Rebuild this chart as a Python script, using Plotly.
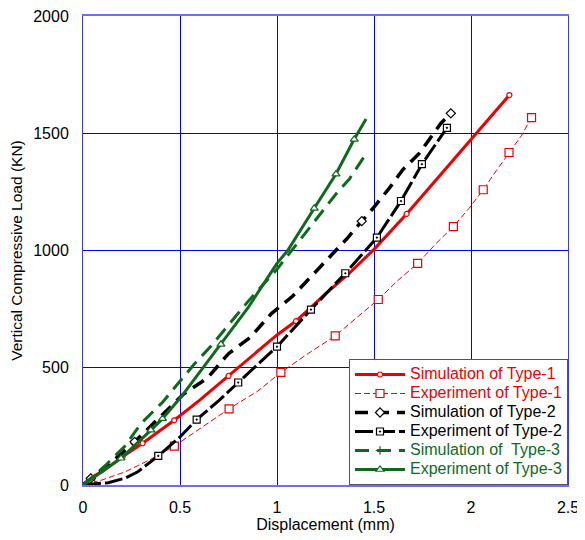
import plotly.graph_objects as go

# ---------------- data ----------------
sim1_x = [0, 0.038, 0.1, 0.204, 0.307, 0.47, 0.6, 0.75, 1.0, 1.098, 1.25, 1.373, 1.5, 1.668, 2.198]
sim1_y = [0, 30, 58, 121, 178, 276, 361, 465, 640, 699, 815, 903, 1005, 1156, 1663]
sim1_mx = [0, 0.038, 0.204, 0.307, 0.47, 0.75, 1.098, 1.668, 2.198]
sim1_my = [0, 30, 121, 178, 276, 465, 699, 1156, 1663]

exp1_x = [0, 0.1, 0.22, 0.35, 0.471, 0.6, 0.753, 0.9, 1.02, 1.15, 1.3, 1.42, 1.522, 1.62, 1.725,
          1.82, 1.909, 1.99, 2.063, 2.13, 2.196, 2.26, 2.312]
exp1_y = [0, 22, 57, 110, 166, 240, 325, 400, 480, 555, 636, 720, 791, 870, 945,
          1030, 1102, 1180, 1259, 1340, 1418, 1490, 1567]
exp1_mx = [0.04, 0.471, 0.753, 1.02, 1.3, 1.522, 1.725, 1.909, 2.063, 2.196, 2.312]
exp1_my = [12, 166, 325, 480, 636, 791, 945, 1102, 1259, 1418, 1567]

sim2_x = [0, 0.1, 0.17, 0.266, 0.375, 0.52, 0.64, 0.75, 0.86, 0.97, 1.08, 1.17, 1.27, 1.36,
          1.437, 1.493, 1.579, 1.648, 1.734, 1.845, 1.896]
sim2_y = [0, 65, 114, 184, 270, 389, 455, 560, 628, 730, 805, 885, 975, 1050,
          1125, 1178, 1266, 1344, 1415, 1543, 1585]
sim2_mx = [0.04, 0.266, 1.437, 1.896]
sim2_my = [28, 184, 1125, 1585]

exp2_x = [0, 0.05, 0.13, 0.22, 0.28, 0.388, 0.5, 0.586, 0.7, 0.8, 0.9, 1.0, 1.175, 1.352,
          1.515, 1.639, 1.747, 1.876]
exp2_y = [0, 3, 10, 30, 55, 124, 205, 279, 360, 437, 515, 590, 748, 903,
          1055, 1211, 1368, 1523]
exp2_mx = [0.388, 0.586, 0.8, 1.0, 1.175, 1.352, 1.515, 1.639, 1.747, 1.876]
exp2_my = [124, 279, 437, 590, 748, 903, 1055, 1211, 1368, 1523]

sim3_x = [0, 0.11, 0.213, 0.299, 0.41, 0.505, 0.574, 0.66, 0.85, 1.0, 1.193, 1.235, 1.304, 1.373, 1.45]
sim3_y = [0, 79, 163, 262, 353, 445, 516, 593, 782, 920, 1122, 1164, 1241, 1305, 1401]

exp3_x = [0, 0.05, 0.196, 0.35, 0.41, 0.505, 0.6, 0.711, 0.85, 1.0, 1.055, 1.192, 1.304, 1.398, 1.459]
exp3_y = [0, 30, 114, 234, 283, 375, 480, 600, 755, 945, 1000, 1180, 1326, 1474, 1561]
exp3_mx = [0.196, 0.35, 0.41, 0.711, 1.192, 1.304, 1.398]
exp3_my = [114, 234, 283, 600, 1180, 1326, 1474]

x_ticks = [0, 0.5, 1, 1.5, 2, 2.5]
x_tick_text = ["0", "0.5", "1", "1.5", "2", "2.5"]
y_ticks = [0, 500, 1000, 1500, 2000]
y_tick_text = ["0", "500", "1000", "1500", "2000"]

names = ["Simulation of Type-1", "Experiment of Type-1", "Simulation of Type-2",
         "Experiment of Type-2", "Simulation of  Type-3", "Experiment of Type-3"]

# ---------------- styles ----------------
RED = "#ee0000"
BLACK = "#000000"
GREEN = "#0f6a1e"
GRID = "rgb(0,0,255)"
FONT = "Arial, Liberation Sans, sans-serif"

fig = go.Figure()

def series(x, y, mx, my, color, width, dash, symbol, msize, name):
    fig.add_trace(go.Scatter(x=x, y=y, mode="lines", showlegend=False, hoverinfo="skip",
                             line=dict(color=color, width=width, dash=dash)))
    if mx:
        fig.add_trace(go.Scatter(x=mx, y=my, mode="markers", showlegend=False, hoverinfo="skip",
                                 marker=dict(symbol=symbol, size=msize, color="white",
                                             line=dict(color=color, width=1.2))))
    fig.add_trace(go.Scatter(x=[None], y=[None], mode="lines+markers",
                             name=f"<span style='color:{color};font-size:16px'>{name}</span>",
                             line=dict(color=color, width=width, dash=dash),
                             marker=dict(symbol=symbol, size=msize, color="white",
                                         line=dict(color=color, width=1.2))))

series(sim1_x, sim1_y, sim1_mx, sim1_my, RED, 3, "solid", "circle", 5, names[0])
series(exp1_x, exp1_y, exp1_mx, exp1_my, RED, 1, "6px,3px", "square", 8, names[1])
series(sim2_x, sim2_y, sim2_mx, sim2_my, BLACK, 3.5, "13px,8px", "diamond", 7, names[2])
series(exp2_x, exp2_y, exp2_mx, exp2_my, BLACK, 3, "18px,4px", "square-dot", 7, names[3])
series(sim3_x, sim3_y, [], [], GREEN, 3, "14px,8px", "cross-thin", 6, names[4])
series(exp3_x, exp3_y, exp3_mx, exp3_my, GREEN, 3, "solid", "triangle-up", 7, names[5])

# the page adds an 8px body margin, so the figure is 8px smaller and shifted
fig.update_layout(
    width=577, height=532,
    margin=dict(l=75, r=17, t=8, b=55),
    paper_bgcolor="white", plot_bgcolor="white",
    font=dict(family=FONT, size=16, color="black"),
    legend=dict(x=1, xanchor="right", y=0, yanchor="bottom",
                bgcolor="white", bordercolor="#555555", borderwidth=1,
                font=dict(size=12), tracegroupgap=0, itemwidth=50),
    xaxis=dict(range=[0, 2.5], tickvals=x_ticks, ticktext=x_tick_text, automargin=False,
               showgrid=True, gridcolor=GRID, gridwidth=1, zeroline=False,
               showline=True, linecolor="#6f6fee", linewidth=1.5, mirror=True,
               ticks="", ticklabelstandoff=7, tickfont=dict(size=16), ticklabeloverflow="allow",
               title=dict(text="Displacement (mm)", font=dict(size=16), standoff=4)),
    yaxis=dict(range=[0, 2000], tickvals=y_ticks, ticktext=y_tick_text, automargin=False,
               showgrid=True, gridcolor=GRID, gridwidth=1, zeroline=False,
               showline=True, linecolor="#3a3aee", linewidth=1, mirror=True,
               ticks="", ticklabelstandoff=10, tickfont=dict(size=16), ticklabeloverflow="allow",
               title=dict(text="Vertical Compressive Load (KN)", font=dict(size=15.5), standoff=8)),
)

fig.write_html("out.html")
